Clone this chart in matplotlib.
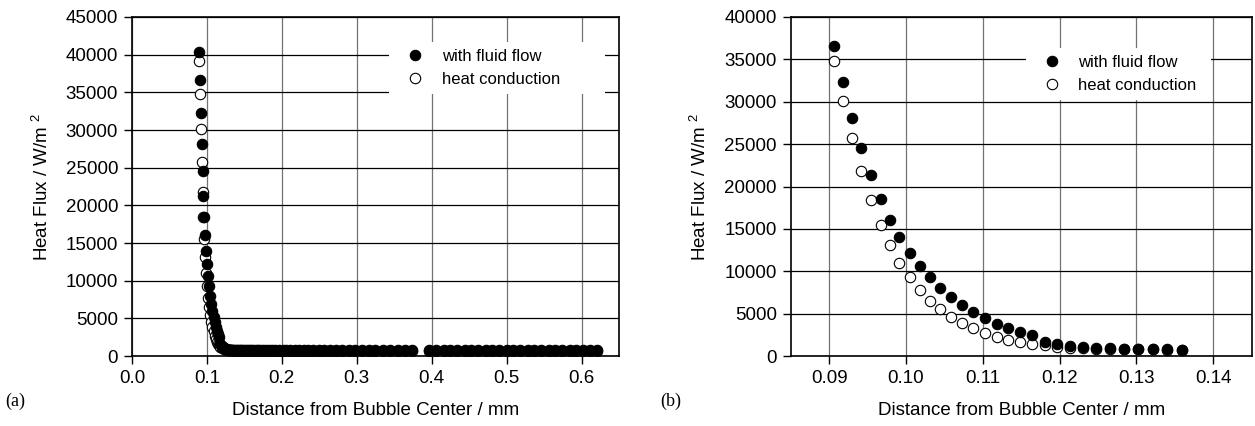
import matplotlib
matplotlib.use('Agg')
import matplotlib.pyplot as plt

plt.rcParams['font.family'] = ['Liberation Sans', 'DejaVu Sans']
plt.rcParams['mathtext.fontset'] = 'custom'
plt.rcParams['mathtext.rm'] = 'Liberation Sans'

# near-field points (shown in both panels)
x_near = [0.0907, 0.0918, 0.0930, 0.0942, 0.0954, 0.0967, 0.0979, 0.0991, 0.1005, 0.1018,
          0.1031, 0.1045, 0.1059, 0.1073, 0.1088, 0.1103, 0.1118, 0.1133, 0.1149, 0.1164,
          0.1181, 0.1197, 0.1214, 0.1231, 0.1248, 0.1266, 0.1284, 0.1302, 0.1321, 0.1340,
          0.1359]
flow_near = [36600, 32300, 28100, 24500, 21300, 18500, 16100, 14000, 12200, 10600,
             9270, 8020, 6950, 6000, 5200, 4460, 3830, 3330, 2880, 2470,
             1640, 1390, 1220, 1100, 980, 900, 860, 825, 790, 780,
             750]
cond_near = [34800, 30100, 25700, 21800, 18400, 15500, 13100, 11000, 9270, 7740,
             6520, 5500, 4560, 3850, 3270, 2710, 2280, 1890, 1650, 1420,
             1260, 1100, 1000, 930, 880, 850, 820, 790, 770, 750,
             730]

# extra points only in panel (a)
x_first = [0.0896]
flow_first = [40400]
cond_first = [39200]

x_tail = [0.138, 0.140, 0.142, 0.144, 0.146, 0.148, 0.151, 0.153, 0.156, 0.159,
          0.162, 0.165, 0.168, 0.171, 0.175, 0.179, 0.183, 0.187, 0.191, 0.196,
          0.201, 0.206, 0.211, 0.217, 0.223, 0.229, 0.235, 0.242, 0.249, 0.256,
          0.264, 0.272, 0.280, 0.289, 0.298, 0.307, 0.316, 0.325, 0.335, 0.345,
          0.355, 0.365, 0.374,
          0.397, 0.406, 0.416, 0.425, 0.434, 0.444, 0.453, 0.462, 0.472, 0.481,
          0.490, 0.500, 0.509, 0.518, 0.528, 0.537, 0.546, 0.556, 0.565, 0.574,
          0.584, 0.593, 0.602, 0.612, 0.621]
flow_tail = [790, 790, 785, 785, 780, 780, 780, 780, 780, 780,
             780, 780, 780, 780, 780, 780, 780, 780, 780, 780,
             780, 780, 780, 780, 780, 780, 780, 780, 780, 780,
             780, 780, 780, 780, 780, 780, 780, 780, 780, 780,
             780, 780, 780,
             780, 780, 780, 780, 780, 780, 780, 780, 780, 780,
             780, 780, 780, 780, 780, 780, 780, 780, 780, 780,
             780, 780, 780, 780, 780]
cond_tail = [715, 705, 698, 692, 688, 684, 681, 678, 676, 674,
             672, 670, 668, 667, 666, 665, 664, 663, 662, 661,
             660, 660, 660, 660, 660, 660, 660, 660, 660, 660,
             660, 660, 660, 660, 660, 660, 660, 660, 660, 660,
             660, 660, 660,
             660, 660, 660, 660, 660, 660, 660, 660, 660, 660,
             660, 660, 660, 660, 660, 660, 660, 660, 660, 660,
             660, 660, 660, 660, 660]

xa = x_first + x_near + x_tail
flow_a = flow_first + flow_near + flow_tail
cond_a = cond_first + cond_near + cond_tail

fig = plt.figure(figsize=(12.55, 4.26), dpi=100)
ax1 = fig.add_axes([0.1052, 0.1643, 0.3880, 0.7958])
ax2 = fig.add_axes([0.6300, 0.1643, 0.3673, 0.7958])


def style(ax):
    ax.set_axisbelow(True)
    ax.yaxis.grid(True, color='black', lw=0.9)
    ax.xaxis.grid(True, color='0.45', lw=0.9)
    for s in ax.spines.values():
        s.set_linewidth(1.2)
    ax.tick_params(direction='out', length=6, width=1, labelsize=13.5, pad=4)
    ax.set_xlabel('Distance from Bubble Center / mm', fontsize=13.5, labelpad=11)
    ax.set_ylabel(r'Heat Flux / W/m $^{2}$', fontsize=13.5, labelpad=10)


def draw(ax, x, f, c, box):
    h2, = ax.plot(x, c, 'o', ms=7.5, mfc='white', mec='black', mew=0.8,
                  linestyle='None', label='heat conduction')
    h1, = ax.plot(x, f, 'o', ms=7.5, mfc='black', mec='black', mew=0.8,
                  linestyle='None', label='with fluid flow')
    leg = ax.legend([h1, h2], ['with fluid flow', 'heat conduction'],
                    loc='upper left', bbox_to_anchor=box, mode='expand',
                    borderaxespad=0, fontsize=12, frameon=True, fancybox=False,
                    edgecolor='none', facecolor='white', framealpha=1,
                    handlelength=2.3, handletextpad=0.45, labelspacing=0.5,
                    borderpad=0.4)
    return leg


draw(ax1, xa, flow_a, cond_a, (0.528, 0.626, 0.4435, 0.3))
ax1.set_xlim(0, 0.65)
ax1.set_ylim(0, 45000)
ax1.set_xticks([0.0, 0.1, 0.2, 0.3, 0.4, 0.5, 0.6])
ax1.set_xticklabels(['0.0', '0.1', '0.2', '0.3', '0.4', '0.5', '0.6'])
ax1.set_yticks(range(0, 45001, 5000))
style(ax1)

draw(ax2, x_near, flow_near, cond_near, (0.5104, 0.608, 0.401, 0.3))
ax2.set_xlim(0.085, 0.145)
ax2.set_ylim(0, 40000)
ax2.set_xticks([0.09, 0.10, 0.11, 0.12, 0.13, 0.14])
ax2.set_xticklabels(['0.09', '0.10', '0.11', '0.12', '0.13', '0.14'])
ax2.set_yticks(range(0, 40001, 5000))
style(ax2)

fig.text(0.004, 0.059, '(a)', family='Liberation Serif', fontsize=13, va='center')
fig.text(0.526, 0.059, '(b)', family='Liberation Serif', fontsize=13, va='center')

fig.savefig('out.png', dpi=100)
